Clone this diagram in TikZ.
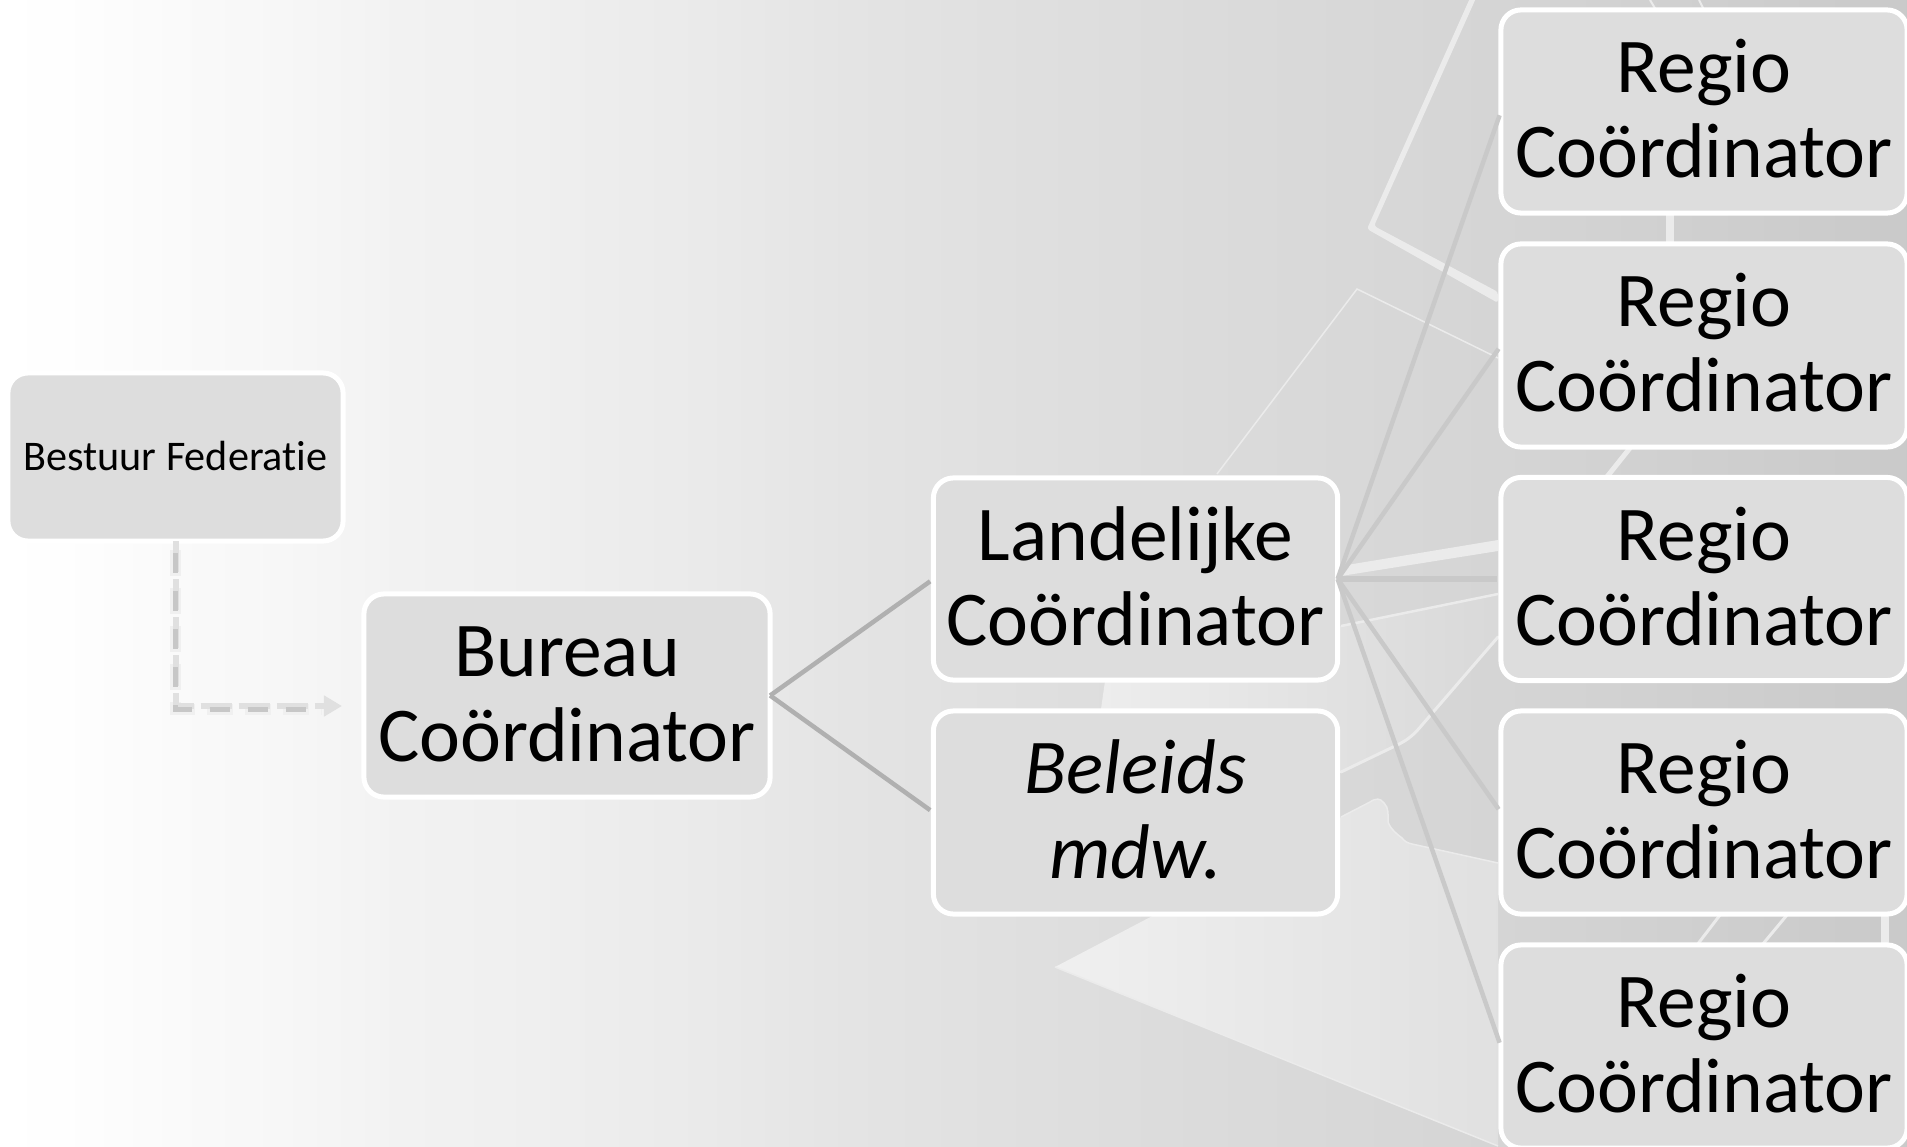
\documentclass[tikz,border=0pt]{standalone}
\usepackage{fontspec}
\setmainfont{Carlito}[Ligatures=NoCommon]
\usetikzlibrary{arrows.meta}
\pgfdeclarehorizontalshading{achtergrond}{100bp}{rgb(0bp)=(1,1,1); rgb(25bp)=(1,1,1); rgb(26.8bp)=(.995,.995,.995); rgb(28.9bp)=(.984,.984,.984); rgb(30.5bp)=(.976,.976,.976); rgb(32.3bp)=(.969,.969,.969); rgb(35.5bp)=(.949,.949,.949); rgb(38.1bp)=(.941,.941,.941); rgb(43.4bp)=(.918,.918,.918); rgb(47.3bp)=(.894,.894,.894); rgb(51.2bp)=(.878,.878,.878); rgb(56.5bp)=(.859,.859,.859); rgb(64.3bp)=(.835,.835,.835); rgb(75bp)=(.79,.79,.79); rgb(100bp)=(.79,.79,.79)}
\definecolor{vak}{HTML}{DDDDDD}
\definecolor{vlak}{HTML}{EBEBEB}
\definecolor{lijn}{HTML}{B0B0B0}
\definecolor{lijnlicht}{HTML}{C9C9C9}
\tikzset{
	vakje/.style={draw=white, fill=vak, line width=0.05cm, rounded corners=0.2cm, outer sep=0, inner sep=0, align=center, text=black},
	groot/.style={vakje, font=\fontsize{22.05}{24.2}\selectfont, text depth=0.06cm},
	regio/.style={groot, minimum width=4.06cm, minimum height=2.03cm},
	tak/.style={lijn, line width=0.045cm, shorten >=0.04cm},
	taklicht/.style={lijnlicht, line width=0.045cm, shorten >=0.04cm},
	streep/.style={color=vlak, line width=#1},
}
\begin{document}
\begin{tikzpicture}[x=0.01cm, y=-0.01cm]
	%%%%% ACHTERGROND %%%%%
	\useasboundingbox (0, 0) rectangle (1907, 1146);
	\shade[shading=achtergrond] (0, 0) rectangle (1907, 1146);
	
	\shade[left color=black!7, right color=black!15] (1106, 674) -- (1498, 594) -- (1498, 637) -- (1422, 725) .. controls (1412, 737) and (1406, 741) .. (1393, 747) -- (1341, 772) -- (1250, 815) -- (1098, 730) -- cycle;
	\draw[streep=0.025cm] (1341, 626) -- (1498, 594);
	\draw[streep=0.03cm, line cap=round] (1498, 637) -- (1422, 725) .. controls (1412, 737) and (1406, 741) .. (1393, 747) -- (1341, 772);
	
	\shade[left color=black!6, right color=black!12] (1055, 967) -- (1370, 802) .. controls (1376, 798) and (1380, 798) .. (1384, 803) .. controls (1389, 808) and (1388, 815) .. (1388, 822) .. controls (1391, 830) and (1397, 834) .. (1402, 838) .. controls (1405, 842) and (1408, 843) .. (1412, 844) -- (1498, 863) -- (1498, 1146) -- cycle;
	\draw[streep=0.015cm] (1498, 863) -- (1412, 844) .. controls (1408, 843) and (1405, 842) .. (1402, 838) .. controls (1397, 834) and (1391, 830) .. (1388, 822) .. controls (1388, 815) and (1389, 808) .. (1384, 803) .. controls (1380, 798) and (1376, 798) .. (1370, 802) -- (1341, 817);
	\draw[streep=0.015cm] (1055, 967) -- (1498, 1146);
	
	\fill[color=vlak, rounded corners=0.03cm] (1470, -2) -- (1367, 229) -- (1498, 303) -- (1498, 292) -- (1374, 226) -- (1476, -2) -- cycle;
	\draw[streep=0.015cm] (1217, 474) -- (1357, 289) -- (1498, 358);
	\fill[color=vlak] (1341, 566) -- (1498, 540) -- (1498, 551) -- (1341, 576) -- cycle;
	
	\draw[streep=0.08cm] (1670, 214) -- (1670, 243);
	\draw[streep=0.05cm] (1630, 448) -- (1606, 478);
	\draw[streep=0.02cm] (1650, 0) -- (1656, 10);
	\draw[streep=0.02cm] (1699, 0) -- (1704, 10);
	\draw[streep=0.03cm] (1720, 915) -- (1697, 945);
	\draw[streep=0.03cm] (1787, 915) -- (1762, 945);
	\draw[streep=0.08cm] (1885, 915) -- (1885, 945);
	
	%%%%% VAKKEN %%%%%
	\node[vakje, minimum width=3.35cm, minimum height=1.68cm, font=\fontsize{12}{14}\selectfont, text depth=0.02cm] (bestuur) at (175.5, 457) {Bestuur Federatie};
	\node[groot, minimum width=4.06cm, minimum height=2.03cm, text depth=0.02cm] (bureau) at (567, 695.5) {Bureau\\Coördinator};
	\node[groot, minimum width=4.04cm, minimum height=2.02cm] (landelijk) at (1135.5, 579) {Landelijke\\Coördinator};
	\node[groot, minimum width=4.04cm, minimum height=2.03cm, font=\fontsize{22.05}{24.2}\selectfont\itshape] (beleid) at (1135.5, 812.5) {Beleids\\mdw.};
	
	\node[regio] (regioa) at (1704, 111.5) {Regio\\Coördinator};
	\node[regio] (regiob) at (1704, 345.5) {Regio\\Coördinator};
	\node[regio] (regioc) at (1704, 579) {Regio\\Coördinator};
	\node[regio] (regiod) at (1704, 812.5) {Regio\\Coördinator};
	\node[regio] (regioe) at (1704, 1046.5) {Regio\\Coördinator};
	
	%%%%% LIJNEN %%%%%
	\draw[tak] (bureau.east) -- (landelijk.west);
	\draw[tak] (bureau.east) -- (beleid.west);
	
	\draw[taklicht] (landelijk.east) -- (regioa.west);
	\draw[taklicht] (landelijk.east) -- (regiob.west);
	\draw[taklicht, line width=0.06cm] (landelijk.east) -- (regioc.west);
	\draw[taklicht] (landelijk.east) -- (regiod.west);
	\draw[taklicht] (landelijk.east) -- (regioe.west);
	
	\coordinate (pijlpunt) at (342, 706);
	\coordinate (schaduw) at (322, 709);
	\draw[color=black!6, line width=0.11cm, dash pattern=on 0.26cm off 0.12cm, dash phase=0.29cm] (bestuur.south) |- (schaduw);
	\draw[color=black!12, line width=0.06cm, dash pattern=on 0.31cm off 0.07cm, -{Triangle[length=0.18cm, width=0.2cm]}] (bestuur.south) |- (pijlpunt);
	\draw[color=black!22, line width=0.05cm, dash pattern=on 0.2cm off 0.18cm, dash phase=0.26cm] (bestuur.south) |- (schaduw);
\end{tikzpicture}
\end{document}
